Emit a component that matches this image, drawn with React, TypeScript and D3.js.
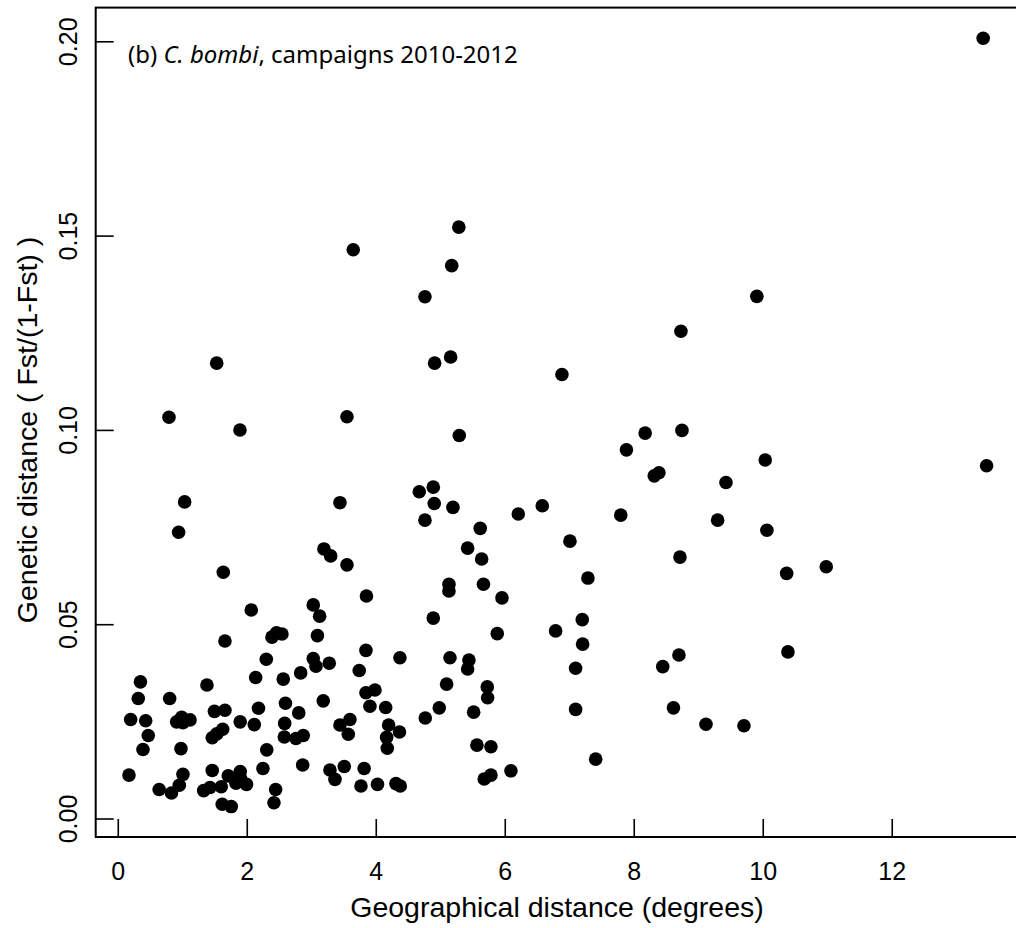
// App.tsx
import React, { useEffect, useRef } from 'react';
import * as d3 from 'd3';

// Geographical distance (degrees) for each pair of sites
const geoDist = [
  13.41, 5.28, 5.17, 4.755, 3.643, 1.526, 4.905, 5.153, 6.879, 8.724,
  9.901, 5.287, 0.786, 1.887, 3.546, 1.029, 0.936, 3.437, 3.189, 3.293,
  3.546, 1.628, 3.848, 2.062, 3.023, 3.122, 2.383, 2.453, 2.538, 3.088,
  1.654, 2.295, 3.023, 3.065, 3.271, 3.84, 4.367, 3.736, 2.828, 2.13,
  2.558, 1.375, 0.344, 0.31, 0.797, 3.178, 2.592, 3.84, 3.98, 3.902,
  4.146, 2.174, 2.798, 1.491, 1.654, 0.192, 0.425, 0.905, 0.983, 1.003,
  1.112, 1.89, 2.109, 2.58, 3.437, 3.592, 4.192, 4.36, 0.465, 1.457,
  1.526, 1.619, 2.574, 2.755, 2.868, 3.566, 4.161, 4.171, 0.383, 0.972,
  2.302, 0.166, 1.003, 0.946, 0.634, 0.825, 1.457, 1.705, 1.891, 1.825,
  1.988, 1.902, 1.324, 1.422, 1.597, 1.612, 1.752, 2.243, 2.44, 2.414,
  2.859, 3.282, 3.36, 3.504, 3.812, 3.763, 4.019, 4.305, 4.372, 4.667,
  4.884, 4.899, 5.189, 4.755, 6.202, 6.574, 7.791, 5.612, 5.417, 5.634,
  7.003, 7.282, 5.127, 5.127, 5.662, 5.949, 4.884, 5.876, 6.781, 7.194,
  7.2, 7.091, 7.091, 7.402, 5.143, 5.437, 5.417, 5.091, 5.721, 5.727,
  4.977, 4.76, 5.51, 5.561, 5.778, 5.674, 5.778, 6.088, 8.442, 8.608,
  8.693, 8.709, 8.169, 7.879, 8.31, 8.383, 8.74, 10.031, 13.463, 9.422,
  9.293, 10.057, 10.363, 10.977, 10.383, 9.112, 9.701,
];

// Genetic distance Fst/(1-Fst) for the same pairs
const geneticDist = [
  0.2009, 0.1523, 0.1424, 0.1344, 0.1465, 0.1173, 0.1173, 0.1189, 0.1144, 0.1255,
  0.1345, 0.0987, 0.1034, 0.1001, 0.1035, 0.0816, 0.0738, 0.0814, 0.0695, 0.0677,
  0.0654, 0.0635, 0.0574, 0.0538, 0.0551, 0.0522, 0.0468, 0.0479, 0.0476, 0.0472,
  0.0458, 0.0411, 0.0413, 0.0393, 0.0401, 0.0434, 0.0415, 0.0382, 0.0376, 0.0364,
  0.036, 0.0345, 0.0353, 0.031, 0.031, 0.0304, 0.0298, 0.0325, 0.0332, 0.029,
  0.0287, 0.0285, 0.0273, 0.0277, 0.028, 0.0256, 0.0253, 0.025, 0.0262, 0.0248,
  0.0255, 0.025, 0.0243, 0.0246, 0.0242, 0.0256, 0.0242, 0.0224, 0.0215, 0.0209,
  0.0219, 0.0231, 0.0211, 0.0207, 0.0215, 0.0218, 0.021, 0.0182, 0.0179, 0.0181,
  0.0178, 0.0113, 0.0115, 0.0087, 0.0076, 0.0067, 0.0125, 0.0111, 0.0122, 0.0092,
  0.0089, 0.0103, 0.0073, 0.0081, 0.0083, 0.0038, 0.0032, 0.013, 0.0076, 0.0042,
  0.0139, 0.0126, 0.0102, 0.0135, 0.013, 0.0085, 0.0089, 0.0091, 0.0085, 0.0842,
  0.0854, 0.0812, 0.0802, 0.0769, 0.0785, 0.0806, 0.0782, 0.0748, 0.0697, 0.0669,
  0.0715, 0.062, 0.0604, 0.0587, 0.0604, 0.0569, 0.0517, 0.0477, 0.0484, 0.0513,
  0.045, 0.0388, 0.0282, 0.0154, 0.0415, 0.0409, 0.0386, 0.0347, 0.034, 0.0312,
  0.0286, 0.026, 0.0275, 0.019, 0.0186, 0.0103, 0.0113, 0.0124, 0.0392, 0.0286,
  0.0422, 0.0674, 0.0993, 0.095, 0.0883, 0.0891, 0.1, 0.0924, 0.0909, 0.0866,
  0.0769, 0.0743, 0.0632, 0.0649, 0.043, 0.0244, 0.024,
];

const xTicks = [0, 2, 4, 6, 8, 10, 12];
const yTicks = [0, 0.05, 0.1, 0.15, 0.2];

const axisFont = '"Liberation Sans", Arial, Helvetica, sans-serif';
const titleFont = '"Noto Sans", "Open Sans", sans-serif';

const App: React.FC = () => {
  const svgRef = useRef<SVGSVGElement>(null);

  useEffect(() => {
    if (!svgRef.current) return;
    const svg = d3.select(svgRef.current);
    svg.selectAll('*').remove();

    // R-style 4% padding around the data range
    const x = d3.scaleLinear().domain([-0.35, 13.95]).range([95.7, 1018]);
    const y = d3.scaleLinear().domain([-0.00463, 0.2088]).range([837, 7.6]);

    const [x0, x1] = x.range();
    const [y0, y1] = y.range();

    // plot box
    svg.append('rect')
      .attr('x', x0).attr('y', y1)
      .attr('width', x1 - x0).attr('height', y0 - y1)
      .attr('fill', 'none').attr('stroke', 'black').attr('stroke-width', 2);

    // x ticks, drawn inward
    svg.append('g').selectAll('line').data(xTicks).join('line')
      .attr('x1', d => x(d)).attr('x2', d => x(d))
      .attr('y1', y0).attr('y2', y0 - 18)
      .attr('stroke', 'black').attr('stroke-width', 1.6);

    svg.append('g').selectAll('text').data(xTicks).join('text')
      .attr('x', d => x(d)).attr('y', 880)
      .attr('text-anchor', 'middle')
      .attr('font-family', axisFont).attr('font-size', 25)
      .text(d => String(d));

    // y ticks, drawn inward
    svg.append('g').selectAll('line').data(yTicks).join('line')
      .attr('x1', x0).attr('x2', x0 + 18)
      .attr('y1', d => y(d)).attr('y2', d => y(d))
      .attr('stroke', 'black').attr('stroke-width', 1.6);

    svg.append('g').selectAll('text').data(yTicks).join('text')
      .attr('transform', d => `translate(77, ${y(d)}) rotate(-90)`)
      .attr('text-anchor', 'middle')
      .attr('font-family', axisFont).attr('font-size', 25)
      .text(d => d3.format('.2f')(d));

    // axis titles
    svg.append('text')
      .attr('x', 557).attr('y', 917)
      .attr('text-anchor', 'middle')
      .attr('font-family', axisFont).attr('font-size', 28.5)
      .text('Geographical distance (degrees)');

    svg.append('text')
      .attr('transform', `translate(37, 430) rotate(-90)`)
      .attr('text-anchor', 'middle')
      .attr('font-family', axisFont).attr('font-size', 28.5)
      .text('Genetic distance ( Fst/(1-Fst) )');

    // panel label
    const label = svg.append('text')
      .attr('x', 128).attr('y', 63)
      .attr('font-family', titleFont).attr('font-size', 24);
    label.append('tspan').text('(b) ');
    label.append('tspan').attr('font-style', 'italic').text('C. bombi');
    label.append('tspan').text(', campaigns 2010-2012');

    // points
    const pts = geoDist.map((g, i) => ({ g, f: geneticDist[i] }));
    svg.append('g').selectAll('circle').data(pts).join('circle')
      .attr('cx', d => x(d.g))
      .attr('cy', d => y(d.f))
      .attr('r', 6.8)
      .attr('fill', 'black');
  }, []);

  return (
    <svg
      ref={svgRef}
      width={1016}
      height={928}
      style={{ position: 'absolute', left: 0, top: 0, background: '#fff' }}
    />
  );
};

export default App;
